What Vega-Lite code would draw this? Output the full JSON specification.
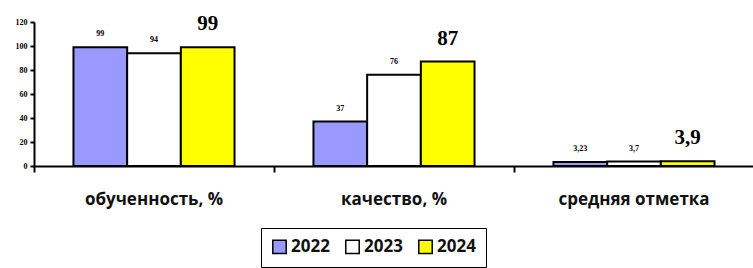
{
  "$schema": "https://vega.github.io/schema/vega-lite/v6.json",
  "autosize": "none",
  "width": 720,
  "height": 144,
  "padding": {"left": 34, "top": 22, "right": 0, "bottom": 102},
  "background": "white",
  "config": {"view": {"stroke": null}},
  "data": {"values": [
    {"cat": "обученность, %", "year": "2022", "value": 99, "label": "99"},
    {"cat": "обученность, %", "year": "2023", "value": 94, "label": "94"},
    {"cat": "обученность, %", "year": "2024", "value": 99, "label": "99"},
    {"cat": "качество, %", "year": "2022", "value": 37, "label": "37"},
    {"cat": "качество, %", "year": "2023", "value": 76, "label": "76"},
    {"cat": "качество, %", "year": "2024", "value": 87, "label": "87"},
    {"cat": "средняя отметка", "year": "2022", "value": 3.23, "label": "3,23"},
    {"cat": "средняя отметка", "year": "2023", "value": 3.7, "label": "3,7"},
    {"cat": "средняя отметка", "year": "2024", "value": 3.9, "label": "3,9"}
  ]},
  "encoding": {
    "x": {
      "field": "cat", "type": "nominal", "sort": null,
      "scale": {"paddingInner": 0, "paddingOuter": 0},
      "axis": {
        "title": null, "labelAngle": 0, "bandPosition": 0,
        "domainColor": "black", "domainWidth": 2,
        "tickColor": "black", "tickWidth": 2, "tickSize": 6,
        "labelFont": "Open Sans", "labelFontWeight": "bold", "labelFontSize": 17,
        "labelColor": "#111", "labelPadding": 19, "labelBaseline": "top"
      }
    },
    "xOffset": {
      "field": "year", "type": "nominal",
      "scale": {"paddingInner": 0, "paddingOuter": 0.735}
    },
    "y": {
      "field": "value", "type": "quantitative",
      "scale": {"domain": [0, 120], "nice": false},
      "axis": {
        "title": null, "values": [0, 20, 40, 60, 80, 100, 120], "grid": false,
        "labelOverlap": false, "labelBound": false, "labelFlush": false,
        "domainColor": "black", "domainWidth": 2,
        "tickColor": "black", "tickWidth": 2, "tickSize": 4,
        "labelFont": "Liberation Serif", "labelFontWeight": "bold", "labelFontSize": 8,
        "labelColor": "black", "labelPadding": 3
      }
    }
  },
  "layer": [
    {
      "mark": {"type": "bar", "stroke": "black", "strokeWidth": 2},
      "encoding": {
        "fill": {
          "field": "year", "type": "nominal",
          "scale": {"domain": ["2022", "2023", "2024"], "range": ["#9999ff", "#ffffff", "#ffff00"]},
          "legend": {
            "title": null, "orient": "none", "direction": "horizontal",
            "legendX": 227, "legendY": 206,
            "strokeColor": "black", "padding": 10,
            "symbolType": "square", "symbolSize": 180,
            "symbolStrokeColor": "black", "symbolStrokeWidth": 1.5,
            "labelFont": "Open Sans", "labelFontWeight": "bold", "labelFontSize": 17,
            "labelColor": "#111", "columnPadding": 12, "labelOffset": 3
          }
        }
      }
    },
    {
      "transform": [{"filter": "datum.year !== '2024'"}],
      "mark": {"type": "text", "baseline": "alphabetic", "dy": -11, "font": "Liberation Serif", "fontWeight": "bold", "fontSize": 8, "color": "black"},
      "encoding": {
        "text": {"field": "label"}
      }
    },
    {
      "transform": [{"filter": "datum.year === '2024'"}],
      "mark": {"type": "text", "baseline": "alphabetic", "dy": -17, "font": "Liberation Serif", "fontWeight": "bold", "fontSize": 21, "color": "black"},
      "encoding": {
        "text": {"field": "label"}
      }
    }
  ]
}
